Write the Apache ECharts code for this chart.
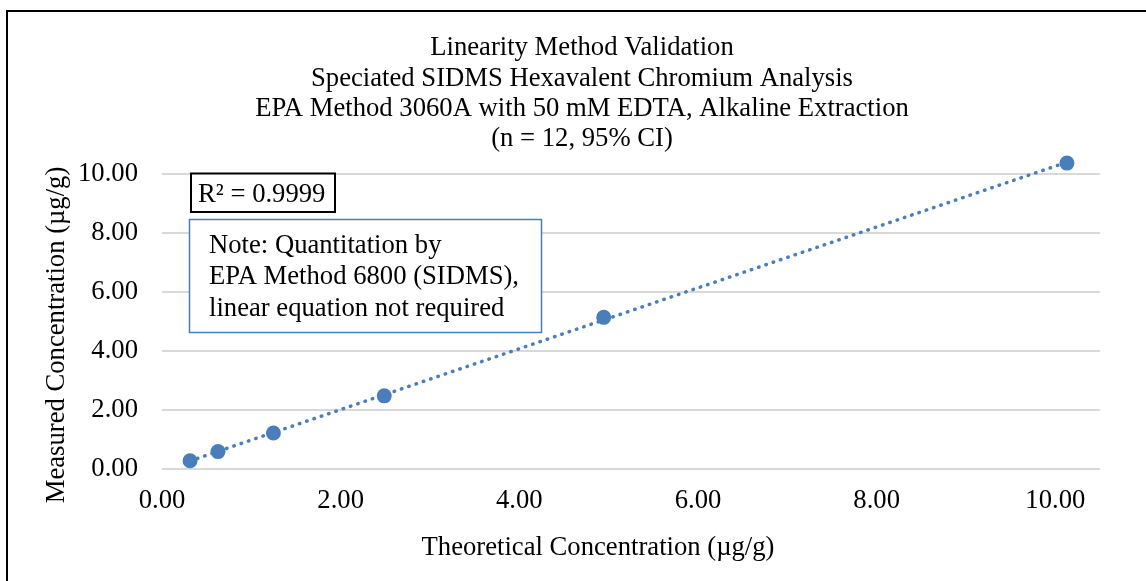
<!DOCTYPE html>
<html>
<head>
<meta charset="utf-8">
<script src="https://cdn.jsdelivr.net/npm/echarts@6/dist/echarts.min.js"></script>
<style>
html,body{margin:0;padding:0;background:#fff;}
#chart{width:1146px;height:581px;}
</style>
</head>
<body>
<div id="chart"></div>
<script>
// Data
const theoretical = [0.314, 0.627, 1.247, 2.488, 4.945, 10.13];
const measured = [0.28, 0.59, 1.22, 2.48, 5.14, 10.37];
const xTicks = [0, 2, 4, 6, 8, 10];
const yTicks = [0, 2, 4, 6, 8, 10];
const titleLines = [
  'Linearity Method Validation',
  'Speciated SIDMS Hexavalent Chromium Analysis',
  'EPA Method 3060A with 50 mM EDTA, Alkaline Extraction',
  '(n = 12, 95% CI)'
];
const noteLines = [
  'Note: Quantitation by',
  'EPA Method 6800 (SIDMS),',
  'linear equation not required'
];
const r2Label = 'R² = 0.9999';
const xName = 'Theoretical Concentration (µg/g)';
const yName = 'Measured Concentration (µg/g)';

// Linear trendline (least squares), like the spreadsheet trendline
const n = theoretical.length;
const mx = theoretical.reduce((a, b) => a + b, 0) / n;
const my = measured.reduce((a, b) => a + b, 0) / n;
let sxy = 0, sxx = 0;
for (let i = 0; i < n; i++) {
  sxy += (theoretical[i] - mx) * (measured[i] - my);
  sxx += (theoretical[i] - mx) * (theoretical[i] - mx);
}
const slope = sxy / sxx;
const intercept = my - slope * mx;
const xMin = Math.min(...theoretical), xMax = Math.max(...theoretical);
const trend = [[xMin, intercept + slope * xMin], [xMax, intercept + slope * xMax]];

const FONT = "'Liberation Serif', 'Times New Roman', serif";
const FS = 26.67;
const BLUE = '#4A7EBB';

const chart = echarts.init(document.getElementById('chart'), null, {renderer: 'canvas'});
chart.setOption({
  backgroundColor: '#fff',
  animation: false,
  grid: {left: 162, right: 46, top: 174, bottom: 112, containLabel: false},
  xAxis: {
    type: 'value', min: xTicks[0], max: 10.5, interval: 2,
    axisLine: {show: false}, axisTick: {show: false}, splitLine: {show: false},
    axisLabel: {
      fontFamily: FONT, fontSize: FS, color: '#000', margin: 18,
      showMaxLabel: false,
      formatter: v => (xTicks.indexOf(v) >= 0 ? v.toFixed(2) : '')
    }
  },
  yAxis: {
    type: 'value', min: yTicks[0], max: yTicks[yTicks.length - 1], interval: 2,
    axisLine: {show: false}, axisTick: {show: false},
    splitLine: {show: true, lineStyle: {color: '#d9d9d9', width: 2}},
    axisLabel: {
      fontFamily: FONT, fontSize: FS, color: '#000', margin: 24,
      formatter: v => v.toFixed(2)
    }
  },
  series: [
    {
      type: 'line', data: trend, symbol: 'none', clip: false, silent: true,
      lineStyle: {color: BLUE, width: 3.5, type: [0.5, 7.2], cap: 'round'},
      z: 2
    },
    {
      type: 'scatter', data: theoretical.map((x, i) => [x, measured[i]]),
      symbol: 'circle', symbolSize: 15, clip: false,
      itemStyle: {color: BLUE, opacity: 1},
      z: 3
    }
  ],
  graphic: [
    {
      type: 'rect', shape: {x: 7, y: 11, width: 1300, height: 700},
      style: {fill: 'none', stroke: '#000', lineWidth: 2}, z: 100
    },
    {
      type: 'text', x: 582, y: 33,
      style: {text: titleLines.join('\n'), font: FS + 'px ' + FONT, fill: '#000',
        textAlign: 'center', textVerticalAlign: 'top', lineHeight: 30.4}
    },
    {
      type: 'text', x: 598, y: 548,
      style: {text: xName, font: FS + 'px ' + FONT, fill: '#000',
        textAlign: 'center', textVerticalAlign: 'middle'}
    },
    {
      type: 'text', x: 57, y: 335, rotation: Math.PI / 2,
      style: {text: yName, font: FS + 'px ' + FONT, fill: '#000',
        textAlign: 'center', textVerticalAlign: 'middle'}
    },
    {
      type: 'rect', shape: {x: 191, y: 173.5, width: 144, height: 38.5},
      style: {fill: '#fff', stroke: '#000', lineWidth: 2}, z: 10
    },
    {
      type: 'text', x: 198, y: 195, z: 11,
      style: {text: r2Label, font: FS + 'px ' + FONT, fill: '#000',
        textAlign: 'left', textVerticalAlign: 'middle'}
    },
    {
      type: 'rect', shape: {x: 189.5, y: 219.5, width: 352, height: 113},
      style: {fill: '#fff', stroke: BLUE, lineWidth: 1.5}, z: 10
    },
    {
      type: 'text', x: 209, y: 230, z: 11,
      style: {text: noteLines.join('\n'), font: FS + 'px ' + FONT, fill: '#000',
        textAlign: 'left', textVerticalAlign: 'top', lineHeight: 31.5}
    }
  ]
});
</script>
</body>
</html>
